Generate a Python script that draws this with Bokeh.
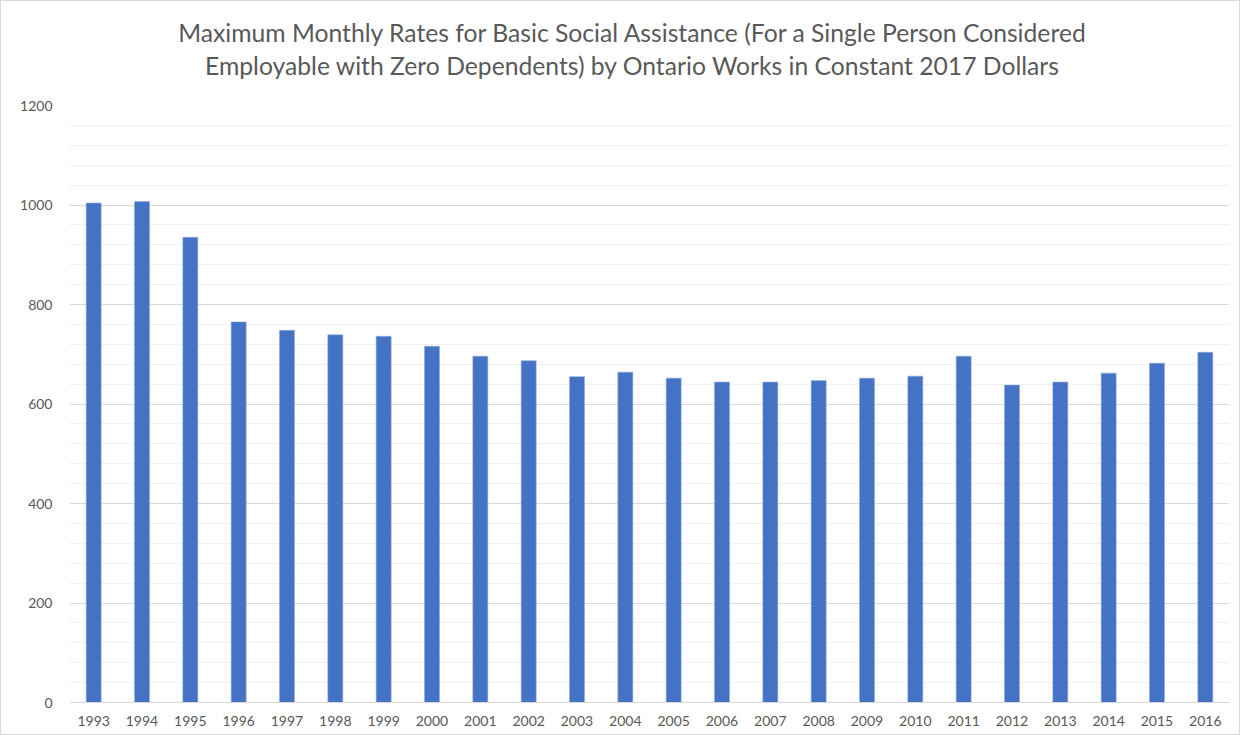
from bokeh.plotting import figure
from bokeh.models import Range1d, SingleIntervalTicker, FactorRange, Div
from bokeh.layouts import column
from bokeh.embed import file_html
from bokeh.resources import INLINE

years = ["1993", "1994", "1995", "1996", "1997", "1998", "1999", "2000", "2001", "2002",
         "2003", "2004", "2005", "2006", "2007", "2008", "2009", "2010", "2011", "2012",
         "2013", "2014", "2015", "2016"]
rates = [1004, 1007, 935, 765, 748, 739, 736, 716, 696, 687,
         655, 664, 652, 644, 644, 647, 652, 656, 696, 638,
         644, 662, 682, 704]

title_line1 = "Maximum Monthly Rates for Basic Social Assistance (For a Single Person Considered"
title_line2 = "Employable with Zero Dependents) by Ontario Works in Constant 2017 Dollars"

FONT = "Lato"
GRAY = "#595959"
W = 1238
TITLE_H = 88

title_div = Div(
    text=(f'<div style="width:1214px;margin-left:24px;text-align:center;'
          f'font-family:{FONT};font-size:24.7px;line-height:33px;color:{GRAY};'
          f'padding-top:15px;white-space:nowrap;">{title_line1}<br>{title_line2}</div>'),
    width=W, height=TITLE_H, margin=0)

p = figure(x_range=FactorRange(*years, range_padding=0), y_range=Range1d(0, 1200),
           width=W, height=733 - TITLE_H, output_backend="svg", toolbar_location=None, title=None,
           min_border_left=68, min_border_right=10, min_border_top=104 - TITLE_H,
           min_border_bottom=32, margin=0)

p.vbar(x=years, top=rates, width=0.31, fill_color="#4472C4", line_color="#8faadc", line_width=0.6)

p.yaxis.ticker = SingleIntervalTicker(interval=200, num_minor_ticks=5)
p.yaxis.axis_line_color = None
p.yaxis.major_tick_line_color = None
p.yaxis.minor_tick_line_color = None
p.yaxis.major_label_text_font = FONT
p.yaxis.major_label_text_font_size = "14px"
p.yaxis.major_label_text_color = GRAY
p.yaxis.major_label_standoff = 11

p.xaxis.axis_line_color = "#d9d9d9"
p.xaxis.major_tick_line_color = None
p.xaxis.minor_tick_line_color = None
p.xaxis.major_label_text_font = FONT
p.xaxis.major_label_text_font_size = "14px"
p.xaxis.major_label_text_color = GRAY
p.xaxis.major_label_standoff = 7

p.xgrid.grid_line_color = None
p.ygrid.grid_line_color = "#d9d9d9"
p.ygrid.minor_grid_line_color = "#f0f0f0"
p.outline_line_color = None

layout = column(title_div, p, spacing=0, styles={"border": "1px solid #d9d9d9", "background": "white"})

open("out.html", "w").write(file_html(layout, INLINE))
